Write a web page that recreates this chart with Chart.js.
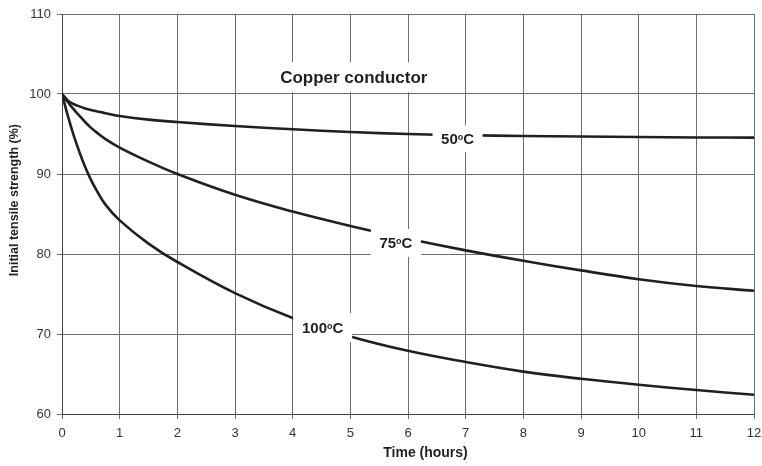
<!DOCTYPE html>
<html>
<head>
<meta charset="utf-8">
<script src="https://cdn.jsdelivr.net/npm/chart.js@4.4.1/dist/chart.umd.min.js"></script>
<style>
  html, body { margin: 0; padding: 0; background: #fff; }
  #wrap { width: 762px; height: 466px; }
</style>
</head>
<body>
<div id="wrap"><canvas id="chart"></canvas></div>
<script>
"use strict";

// time axis (hours)
var hours = [0, 0.1, 0.2, 0.3, 0.4, 0.5, 0.6, 0.75, 1, 1.5, 2, 3, 4, 5, 6, 7, 8, 9, 10, 11, 12];
// remaining tensile strength (%) per temperature
var temp50 = [100, 99.2, 98.75, 98.45, 98.2, 98.0, 97.85, 97.6, 97.25, 96.8, 96.5, 96.0, 95.6, 95.25, 95.0, 94.85, 94.75, 94.68, 94.62, 94.57, 94.55];
var temp75 = [100, 99.0, 98.1, 97.3, 96.5, 95.8, 95.2, 94.4, 93.3, 91.55, 90.0, 87.4, 85.3, 83.5, 81.9, 80.45, 79.15, 77.95, 76.85, 76.0, 75.4];
var temp100 = [100, 97.3, 94.9, 92.8, 90.9, 89.3, 87.95, 86.2, 84.2, 81.3, 79.0, 75.1, 72.0, 69.7, 67.9, 66.5, 65.3, 64.4, 63.65, 63.0, 62.4];
var seriesNames = ["50", "75", "100"];
var titleText = "Copper conductor";

var toPoints = function(ys) {
    return hours.map(function(h, i) { return { x: h, y: ys[i] }; });
};

var lineColor = "#231f20";
var fontFamily = "'Liberation Sans', Arial, sans-serif";
var makeSet = function(name, ys) {
    return {
        label: name + "\u00b0C",
        data: toPoints(ys),
        borderColor: lineColor,
        borderWidth: 2.6,
        pointRadius: 0,
        fill: false,
        tension: 0.4
    };
};

// white-boxed labels drawn on top of the curves
var boxLabels = {
    id: "boxLabels",
    afterDatasetsDraw: function(chart, args, opts) {
        var ctx = chart.ctx;
        var xs = chart.scales.x, ys = chart.scales.y;
        ctx.save();
        opts.items.forEach(function(it) {
            var cx = xs.getPixelForValue(it.x);
            var cy = ys.getPixelForValue(it.y);
            ctx.fillStyle = "#fff";
            ctx.fillRect(cx - it.w / 2, cy - it.h / 2, it.w, it.h);
            ctx.fillStyle = lineColor;
            ctx.textBaseline = "middle";
            if (it.deg) {
                var big = "bold " + it.size + "px " + fontFamily;
                var small = "bold " + Math.round(it.size * 0.62) + "px " + fontFamily;
                ctx.font = big;
                var w1 = ctx.measureText(it.text).width;
                var w3 = ctx.measureText("C").width;
                ctx.font = small;
                var w2 = ctx.measureText("o").width;
                var x0 = cx - (w1 + w2 + w3) / 2;
                ctx.textAlign = "left";
                ctx.font = big;
                ctx.fillText(it.text, x0, cy + 1);
                ctx.font = small;
                ctx.fillText("o", x0 + w1, cy - 1);
                ctx.font = big;
                ctx.fillText("C", x0 + w1 + w2, cy + 1);
            } else {
                ctx.font = "bold " + it.size + "px " + fontFamily;
                ctx.textAlign = "center";
                ctx.fillText(it.text, cx, cy + 1);
            }
        });
        ctx.restore();
    }
};

var ctx = document.getElementById("chart").getContext("2d");
var chart = new Chart(ctx, {
    type: "line",
    data: {
        datasets: [
            makeSet(seriesNames[0], temp50),
            makeSet(seriesNames[1], temp75),
            makeSet(seriesNames[2], temp100)
        ]
    },
    options: {
        responsive: true,
        maintainAspectRatio: false,
        animation: false,
        layout: { padding: { top: 14, right: 0, left: 0, bottom: 0 } },
        plugins: {
            legend: { display: false },
            tooltip: { enabled: false },
            boxLabels: {
                items: [
                    { text: titleText, x: 5.06, y: 102.1, w: 164, h: 30, size: 17 },
                    { text: seriesNames[0], x: 6.86, y: 94.4, w: 50, h: 27, size: 15, deg: true },
                    { text: seriesNames[1], x: 5.79, y: 81.4, w: 50, h: 28, size: 15, deg: true },
                    { text: seriesNames[2], x: 4.52, y: 70.8, w: 59, h: 29, size: 15, deg: true }
                ]
            }
        },
        scales: {
            x: {
                type: "linear",
                min: 0,
                max: 12,
                ticks: {
                    stepSize: 1,
                    color: "#333",
                    font: { family: fontFamily, size: 13 },
                    padding: 7
                },
                grid: { color: "#6d6d6d", lineWidth: 1, tickLength: 5 },
                border: { color: "#444", width: 1 },
                title: {
                    display: true,
                    // leading spaces push the title right, as in the original
                    text: "         Time (hours)",
                    color: "#231f20",
                    font: { family: fontFamily, size: 14, weight: "bold" },
                    padding: { top: 4, bottom: 4 }
                },
                afterFit: function(scale) {
                    scale.height = 52;
                    scale.paddingLeft = 0;
                    scale.paddingRight = 8;
                }
            },
            y: {
                min: 60,
                max: 110,
                ticks: {
                    stepSize: 10,
                    color: "#333",
                    font: { family: fontFamily, size: 13 },
                    padding: 6
                },
                grid: { color: "#6d6d6d", lineWidth: 1, tickLength: 5 },
                border: { color: "#444", width: 1 },
                title: {
                    display: true,
                    // leading spaces lift the title a little, as in the original
                    text: "        Initial tensile strength (%)",
                    color: "#231f20",
                    font: { family: fontFamily, size: 12.5, weight: "bold" },
                    padding: { top: 7, bottom: 0 }
                },
                afterFit: function(scale) { scale.width = 62; }
            }
        }
    },
    plugins: [boxLabels]
});
</script>
</body>
</html>
